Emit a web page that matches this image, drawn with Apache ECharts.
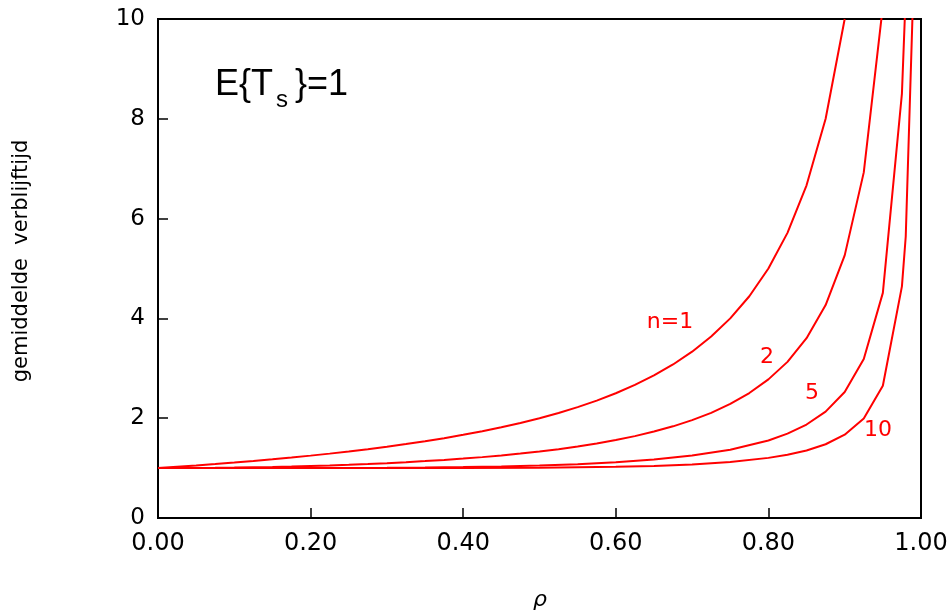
<!DOCTYPE html>
<html><head><meta charset="utf-8">
<script src="https://cdn.jsdelivr.net/npm/echarts@6/dist/echarts.min.js"></script>
<style>html,body{margin:0;padding:0;background:#fff}#c{width:951px;height:613px}</style>
</head><body><div id="c"></div>
<script>
// x values (rho) and mean sojourn time per number of servers n
const rhoN1 = [0,0.025,0.05,0.075,0.1,0.125,0.15,0.175,0.2,0.225,0.25,0.275,0.3,0.325,0.35,0.375,0.4,0.425,0.45,0.475,0.5,0.525,0.55,0.575,0.6,0.625,0.65,0.675,0.7,0.725,0.75,0.775,0.8,0.825,0.85,0.875,0.9];
const valN1 = [1,1.026,1.053,1.081,1.111,1.143,1.176,1.212,1.25,1.290,1.333,1.379,1.429,1.481,1.538,1.6,1.667,1.739,1.818,1.905,2,2.105,2.222,2.353,2.5,2.667,2.857,3.077,3.333,3.636,4,4.444,5,5.714,6.667,8,10];
const rhoN2 = [0,0.025,0.05,0.075,0.1,0.125,0.15,0.175,0.2,0.225,0.25,0.275,0.3,0.325,0.35,0.375,0.4,0.425,0.45,0.475,0.5,0.525,0.55,0.575,0.6,0.625,0.65,0.675,0.7,0.725,0.75,0.775,0.8,0.825,0.85,0.875,0.9,0.925,0.95];
const valN2 = [1,1.001,1.003,1.006,1.010,1.016,1.023,1.032,1.042,1.053,1.067,1.082,1.099,1.118,1.140,1.164,1.190,1.220,1.254,1.291,1.333,1.380,1.434,1.494,1.563,1.641,1.732,1.837,1.961,2.108,2.286,2.504,2.778,3.129,3.604,4.267,5.263,6.926,10.256];
const rhoN5 = [0,0.1,0.2,0.3,0.35,0.4,0.45,0.5,0.55,0.6,0.65,0.7,0.75,0.8,0.825,0.85,0.875,0.9,0.925,0.95,0.975,0.98];
const valN5 = [1,1.000,1.001,1.006,1.011,1.020,1.033,1.052,1.079,1.118,1.173,1.252,1.369,1.554,1.690,1.873,2.132,2.525,3.185,4.511,8.505,10.503];
const rhoN10 = [0,0.2,0.4,0.5,0.6,0.65,0.7,0.75,0.8,0.825,0.85,0.875,0.9,0.925,0.95,0.975,0.98,0.99];
const valN10 = [1,1.000,1.001,1.007,1.025,1.044,1.074,1.123,1.205,1.267,1.353,1.478,1.669,1.993,2.651,4.643,5.641,10.63];
const curveLabels = ['n=1','2','5','10'];
const xTitle = 'ρ';
const yTitle = 'gemiddelde  verblijftijd';

const chart = echarts.init(document.getElementById('c'), null, {renderer:'canvas'});
const pair = (xs, ys) => xs.map((x, i) => [x, ys[i]]);
const mk = (name, xs, ys) => ({
  name, type:'line', data: pair(xs, ys), symbol:'none', clip:true,
  lineStyle:{color:'#ff0000', width:2}, itemStyle:{color:'#ff0000'}
});
const lblFont = '22px "DejaVu Sans"';
chart.setOption({
  animation:false,
  backgroundColor:'#fff',
  grid:{left:158, right:30, top:19, bottom:95, show:true, borderColor:'#000', borderWidth:2, backgroundColor:'transparent'},
  xAxis:{type:'value', min:0, max:1, interval:0.2,
    axisLine:{show:true, lineStyle:{color:'#000', width:2}},
    axisTick:{show:true, inside:true, length:10, lineStyle:{color:'#000', width:1.5}},
    axisLabel:{formatter:v=>v.toFixed(2), color:'#000', fontFamily:'DejaVu Sans', fontSize:24, margin:14},
    splitLine:{show:false}},
  yAxis:{type:'value', min:0, max:10, interval:2,
    axisLine:{show:true, lineStyle:{color:'#000', width:2}},
    axisTick:{show:true, inside:true, length:10, lineStyle:{color:'#000', width:1.5}},
    axisLabel:{color:'#000', fontFamily:'DejaVu Sans', fontSize:23, margin:13},
    splitLine:{show:false}},
  series:[mk('n=1', rhoN1, valN1), mk('n=2', rhoN2, valN2), mk('n=5', rhoN5, valN5), mk('n=10', rhoN10, valN10)],
  graphic:[
    {type:'text', x:215, y:85, style:{text:'E{T', font:'36px "Liberation Sans"', fill:'#000', align:'left', verticalAlign:'middle'}},
    {type:'text', x:276, y:100, style:{text:'s', font:'24px "Liberation Sans"', fill:'#000', align:'left', verticalAlign:'middle'}},
    {type:'text', x:295, y:85, style:{text:'}=1', font:'36px "Liberation Sans"', fill:'#000', align:'left', verticalAlign:'middle'}},
    {type:'text', x:670, y:322, style:{text:curveLabels[0], font:lblFont, fill:'#ff0000', align:'center', verticalAlign:'middle'}},
    {type:'text', x:767, y:357, style:{text:curveLabels[1], font:lblFont, fill:'#ff0000', align:'center', verticalAlign:'middle'}},
    {type:'text', x:812, y:393, style:{text:curveLabels[2], font:lblFont, fill:'#ff0000', align:'center', verticalAlign:'middle'}},
    {type:'text', x:878, y:430, style:{text:curveLabels[3], font:lblFont, fill:'#ff0000', align:'center', verticalAlign:'middle'}},
    {type:'text', x:22, y:261, rotation:Math.PI/2, style:{text:yTitle, font:'21px "DejaVu Sans"', fill:'#000', align:'center', verticalAlign:'middle'}},
    {type:'text', x:540, y:600, style:{text:xTitle, font:'italic 22px "DejaVu Sans"', fill:'#000', align:'center', verticalAlign:'middle'}}
  ]
});
</script></body></html>
